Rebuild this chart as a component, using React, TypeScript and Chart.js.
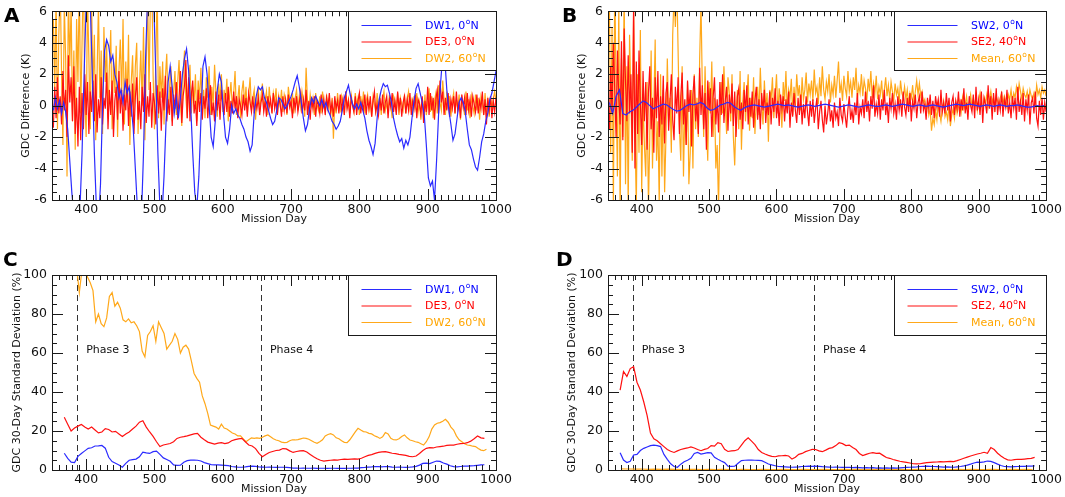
import React, { useEffect, useRef } from 'react';
import { Chart, registerables } from 'chart.js';

Chart.register(...registerables);

const FONT = '"DejaVu Sans", "Liberation Sans", sans-serif';
const BLUE = '#2b2bff';
const RED = '#ff1010';
const ORANGE = '#ffa81a';
const BLUE_TXT = '#0000ff';
const RED_TXT = '#ff0000';
const ORANGE_TXT = '#ffa500';
const AXIS_COLOR = '#1a1a1a';
const LINE_W = 1.2;

// ---------------- axes / annotations ----------------
const X_MIN = 350;
const X_MAX = 1000;
const X_TICKS = [400, 500, 600, 700, 800, 900, 1000];
const X_MAJOR_STEP = 100;
const X_MINOR_STEP = 10;
const Y_TICKS_K = [-6, -4, -2, 0, 2, 4, 6];
const Y_TICKS_PCT = [0, 20, 40, 60, 80, 100];

const PHASE_LINE_DAYS = [387, 656];
const PHASE_LABELS = ['Phase 3', 'Phase 4'];
const PHASE_LABEL_DAYS = [400, 669];
const PHASE_LABEL_VALUE = 61.5;

const LEGEND_A = ['DW1, 0°N', 'DE3, 0°N', 'DW2, 60°N'];
const LEGEND_B = ['SW2, 0°N', 'SE2, 40°N', 'Mean, 60°N'];

// ---------------- Panel A: GDC difference (K) ----------------
const A_DW1_START = 352, A_DW1_STEP = 3;
const A_DW1 = [
  -0.3, 0.5, -0.2, 0.3, -0.5, 0.2, -0.4, -1.5, -3.5, -5.5,
  -7, -8, -7.5, -6.5, -3, 2, 6.5, 8, 6.5, 2,
  -3, -6.5, -7.5, -5, 0, 3.5, 4.2, 3.8, 2.8, 3.2,
  2, 1.5, 0.5, 1, 0.2, 1.5, 0.8, 1.2, 0, -1.5,
  -4, -6.5, -8, -7, -3, 3, 7, 9, 8.5, 6.5,
  2, -3, -6.5, -7, -4.5, -1, 1.5, 2.5, 1.2, -0.5,
  0.5, -0.8, 0.5, 2, 3, 3.6, 2.2, 0, -3, -5.5,
  -6.5, -4.5, -1, 2.5, 3.1, 2, 0, -2, -2.6, -1,
  1, 2, 1.5, -0.5, -2, -2.4, -1.5, 0, -0.5, -0.2,
  -0.6, -0.8, -1.2, -1.5, -2, -2.3, -2.9, -2.5, -0.5, 0.6,
  1.2, 1.0, 1.2, 0.5, 0.2, -0.3, -0.8, -1.2, -1, -0.3,
  0.5, 0.4, 0.1, -0.2, 0, 0.3, 0.6, 1.0, 1.5, 1.9,
  1.2, 0.2, -0.8, -1.6, -1.2, -0.2, 0.5, 0.2, 0.6, 0.3,
  0, 0.4, -0.1, 0.2, -0.3, -0.6, -1.0, -1.2, -1.5, -1.3,
  -1.0, -0.3, 0.5, 0.9, 1.3, 0.6, 0.1, -0.2, 0.1, -0.2,
  0.2, -0.3, -0.8, -1.6, -2.2, -2.6, -3.1, -2.4, -0.8, 0.4,
  1.0, 1.4, 1.2, 1.3, 0.8, 0.2, -0.8, -1.4, -1.9, -2.3,
  -2.1, -2.7, -2.2, -2.5, -2.0, -0.8, 0.3, 1.1, 1.4, 0.8,
  0.2, -0.6, -2.5, -4.6, -5.1, -4.8, -6.0, -3.5, -0.5, 1.5,
  3.2, 3.0, 1.0, -0.3, -1.2, -2.2, -1.8, -0.8, 0.2, 0.5,
  0.2, -0.4, -1.5, -2.5, -2.8, -3.4, -3.9, -4.1, -3.3, -2.3,
  -1.8, -1.0, -0.5, 0.4, 0.8, 1.5, 2.2,
];

const A_DE3_START = 352, A_DE3_STEP = 2;
const A_DE3 = [
  -1.4, 1.2, -0.8, 1.8, -0.5, 0.6, -1.2, 2.2, -0.3, 1.0,
  -2.0, 3.2, 0.2, 1.8, -1.0, 2.5, -1.8, 0.5, -2.6, 1.2,
  -2.2, 0.8, -1.5, 2.0, -0.6, 1.5, -1.8, 0.9, -0.4, 1.6,
  -1.0, 2.0, -1.7, 0.4, -0.8, 1.8, -1.2, 0.5, -0.2, 2.1,
  -1.5, 1.0, -0.6, 1.6, -2.0, 0.3, 1.2, -0.9, 2.2, -0.5,
  1.0, -1.6, 0.7, -0.3, 1.7, -1.3, 0.9, -0.7, 1.4, -1.8,
  0.5, 1.8, -0.9, 0.3, -1.5, 1.2, -0.4, 2.0, -1.1, 0.6,
  -0.7, 1.5, -1.4, 0.8, 0.2, -1.2, 1.3, -0.5, 0.9, -1.6,
  1.1, -0.3, 1.9, -1.0, 0.4, -0.6, 1.2, -1.3, 0.7, -0.2,
  1.5, -0.9, 0.5, 2.2, -1.1, 0.6, 1.3, 2.9, -0.8, 1.8,
  -1.0, 0.7, 1.6, -0.5, 0.3, -1.3, 1.0, -0.4, 0.8, -0.9,
  0.6, -0.2, 1.1, -0.8, 0.4, 1.3, -0.6, 0.2, -1.0, 0.9,
  -0.3, 0.7, -0.9, 1.0, 0.1, -0.6, 0.8, -0.4, 1.2, -0.7,
  0.3, -0.5, 0.9, -0.2, 0.6, -0.8, 0.4, 0.0, -0.6, 0.7,
  -0.3, 0.5, -0.7, 0.8, 0.2, -0.4, 0.6, -0.5, 0.3, -0.2,
  0.5, -0.6, 0.2, 0.7, -0.4, 0.3, -0.7, 0.6, -0.1, 0.4,
  -0.5, 0.8, -0.2, 0.3, -0.6, 0.5, 0.1, -0.7, 0.6, -0.3,
  0.4, -0.5, 0.7, -0.1, 0.3, -0.8, 0.5, -0.2, 0.6, -0.4,
  0.2, 0.8, -0.5, 0.4, -0.3, 1.0, -0.6, 0.3, -0.9, 0.5,
  -0.2, 0.6, -0.7, 0.3, 0.1, -0.5, 0.7, -0.3, 0.4, -0.6,
  0.5, -0.1, 0.8, -0.4, 0.2, -0.7, 0.6, -0.2, 0.3, -0.5,
  0.7, -0.3, 0.4, -0.6, 0.9, -0.2, 0.3, -0.8, 0.5, 0.0,
  -0.4, 0.6, -0.6, 0.3, 0.8, -0.5, 0.2, -0.3, 0.7, -0.6,
  0.4, -0.2, 0.6, -0.7, 0.3, 0.9, -0.4, 0.1, -0.6, 0.5,
  -0.3, 0.7, -0.5, 0.2, 0.6, -0.8, 0.4, -0.1, 0.8, -0.4,
  0.3, -0.6, 0.9, -0.2, 0.5, -0.7, 0.2, 0.6, -0.5, 0.4,
  -0.3, 0.8, -0.6, 0.3, -0.2, 0.7, -0.8, 0.4, 0.1, -0.5,
  0.6, -1.1, 0.3, -0.4, 1.2, -0.6, 0.8, -0.3, 0.5, -0.9,
  0.4, 1.0, -0.5, 1.6, 0.2, 0.9, -0.6, 0.5, -0.3, 0.8,
  -0.7, 0.4, -0.2, 0.6, -0.5, 0.9, -0.3, 0.2, -0.8, 0.7,
  -0.1, 0.5, -0.6, 0.8, -0.3, 0.4, -0.7, 0.6, 0.1, -0.4,
  0.7, -0.5, 0.3, -0.2, 0.9, -0.6, 0.4, -1.2, 0.5, -0.3,
  0.6, -0.8, 0.3, -0.4, 0.5,
];

const A_DW2_START = 352, A_DW2_STEP = 2;
const A_DW2 = [
  5.5, 1.0, 7.0, -1.5, 4.5, 8.0, 2.0, -2.5, 6.5, 3.0,
  -4.5, 7.5, 2.5, 6.5, -1.0, 3.5, -2.8, 5.5, 1.5, 8.0,
  -0.5, 4.0, 9.0, 0.5, -2.0, 7.0, 3.0, -1.5, 6.5, 1.0,
  4.5, -2.2, 2.0, 6.5, 0.5, 3.5, -1.8, 5.0, 1.5, 4.0,
  -0.8, 2.5, 4.8, -1.5, 3.0, 0.8, 3.8, -2.0, 2.2, 4.2,
  0.5, 5.5, -1.2, 2.8, 0.2, 4.5, -2.5, 1.5, 3.2, -0.6,
  2.5, 4.0, -1.8, 1.2, 3.5, 0.0, 5.0, -2.2, 2.8, 7.0,
  1.0, 6.5, 8.5, 2.0, -1.5, 3.0, 7.5, -0.8, 2.5, 0.5,
  2.8, -1.2, 1.8, 3.3, -0.5, 1.0, 2.5, -1.0, 0.8, 2.2,
  -0.6, 1.5, 2.9, 0.3, -1.3, 2.0, 3.5, 0.5, -0.8, 1.6,
  2.6, -0.5, 1.2, 0.2, 2.0, -1.0, 1.6, 0.4, 2.4, -0.3,
  1.0, -0.8, 1.8, 0.5, 2.5, -0.6, 1.2, 0.0, 2.6, 0.8,
  -0.7, 1.4, 0.3, 2.0, -0.4, 1.0, 0.2, 1.7, -1.0, 0.6,
  1.5, -0.2, 0.8, 2.2, -0.6, 0.4, 1.3, -0.8, 0.9, 1.6,
  0.0, 1.2, -0.5, 0.7, 1.8, -0.3, 0.5, 1.0, -0.9, 0.4,
  1.1, -0.4, 0.6, 1.4, -0.2, 0.3, 0.9, -0.6, 1.2, 0.1,
  -0.3, 0.8, 0.2, 1.1, -0.5, 0.6, 0.0, 1.0, -0.4, 0.7,
  0.3, -0.6, 1.2, 0.4, -0.2, 0.8, -0.5, 0.5, 1.0, -0.3,
  0.6, -0.1, 0.9, 0.2, -0.7, 2.4, 0.3, -0.4, 0.7, 0.0,
  0.5, -0.6, 0.8, 0.1, -0.3, 0.6, -0.5, 0.9, 0.2, -0.4,
  0.7, -0.2, 0.4, -0.7, 0.5, -2.1, 0.3, -0.5, 0.8, 0.0,
  -0.3, 0.6, 0.2, -0.6, 0.9, -0.1, 0.4, -0.5, 0.7, 0.1,
  -0.4, 0.8, 0.0, 0.5, -0.6, 0.6, -0.2, 0.9, -0.5, 0.3,
  0.7, -0.3, 0.2, -0.7, 0.6, 0.1, -0.4, 0.8, -0.2, 0.5,
  -0.6, 0.4, 0.9, -0.3, 0.2, -0.5, 0.7, 0.0, -0.8, 0.6,
  0.3, -0.4, 0.8, -0.6, 0.5, 0.1, -0.3, 0.7, -0.5, 0.4,
  0.9, -0.2, 0.3, -0.7, 0.6, -0.1, 0.8, -0.4, 0.2, -0.9,
  0.5, -0.3, 0.7, -0.6, 0.2, 1.1, -0.4, 0.6, -0.8, 0.3,
  0.8, -0.5, 1.3, 0.2, -0.3, 1.6, 0.4, -0.6, 0.9, -0.2,
  0.6, -0.7, 0.3, 0.8, -0.5, 0.4, -0.2, 0.7, -0.9, 0.5,
  0.1, -0.6, 0.9, -0.3, 0.4, -0.8, 0.6, 0.0, -0.5, 0.7,
  -0.3, 0.5, -0.9, 0.6, 0.2, -0.6, 0.8, -0.4, 0.3, -0.7,
  0.6, -0.2, 0.4, 0.9, 0.3,
];

// ---------------- Panel B: GDC difference (K) ----------------
const B_SW2_START = 352, B_SW2_STEP = 5;
const B_SW2 = [
  0.2, -0.5, 0.6, 1.0, -0.5, -0.6, -0.4, -0.3, -0.1, 0.1,
  0.3, 0.2, 0.0, -0.2, -0.1, 0.0, 0.1, 0.05, -0.1, -0.25,
  -0.35, -0.3, -0.15, 0.0, 0.1, 0.05, 0.1, 0.2, 0.1, -0.15,
  -0.3, -0.25, -0.1, 0.05, 0.1, 0.2, 0.15, -0.05, -0.2, -0.3,
  -0.15, -0.05, 0.0, 0.05, 0.0, -0.05, -0.1, -0.05, 0.0, 0.05,
  0.1, 0.05, 0.0, 0.05, 0.0, -0.05, -0.1, -0.05, 0.0, 0.05,
  0.0, -0.05, 0.0, 0.05, 0.1, 0.05, 0.0, -0.05, -0.1, -0.05,
  0.0, 0.05, 0.0, -0.05, -0.1, -0.05, 0.0, 0.05, 0.0, -0.05,
  -0.05, 0.0, 0.05, 0.0, -0.05, 0.0, 0.05, 0.1, 0.05, 0.0,
  -0.05, 0.0, 0.05, 0.0, -0.05, 0.0, 0.05, 0.0, -0.05, -0.1,
  -0.05, 0.0, 0.05, 0.1, 0.05, 0.0, 0.05, 0.1, 0.05, 0.0,
  -0.05, 0.0, 0.05, 0.0, -0.05, 0.0, 0.05, 0.0, -0.05, 0.0,
  0.0, 0.05, 0.0, -0.05, -0.1, -0.1, -0.05, 0.0, -0.05, 0.0,
];

const B_SE2_START = 352, B_SE2_STEP = 2;
const B_SE2 = [
  -1.5, 2.5, -0.5, 4.0, 1.0, -2.0, 3.5, 0.5, -1.2, 4.1,
  -2.2, 4.9, 1.5, -1.0, 3.2, -0.5, 2.0, -3.0, 6.5, -4.0,
  2.8, -1.8, 3.5, 0.2, -2.5, 2.2, -1.0, 1.5, -2.8, 0.8,
  2.5, -1.5, 0.5, -3.0, 1.8, -0.8, 2.2, -2.0, 0.6, -1.2,
  1.9, -2.4, 0.8, 1.5, -1.6, 0.3, 2.0, -0.9, -2.2, 1.2,
  -0.5, 1.8, -1.8, 0.6, 2.1, -1.2, 0.4, -2.5, 1.6, -0.4,
  1.0, -2.6, 0.7, 1.9, -1.0, 0.2, -1.8, 2.4, -0.6, 1.3,
  -1.5, 0.8, -2.8, 1.6, -0.3, 1.1, -2.0, 0.5, 1.8, -1.2,
  0.4, -1.7, 1.5, -0.6, 2.0, -1.1, 0.3, 1.2, -1.6, 0.7,
  -0.5, 1.4, -1.3, 0.9, -2.0, 0.6, 1.1, -0.9, 0.2, -1.5,
  1.0, -0.4, 1.3, -1.2, 0.5, -0.7, 0.9, -1.4, 0.3, 1.2,
  -0.9, 0.4, -1.5, 0.8, -0.3, 1.0, -1.1, 0.2, -0.6, 0.9,
  -1.2, 0.5, -0.4, 1.1, -0.8, 0.3, -1.3, 0.7, -0.2, 0.6,
  -1.0, 0.4, -0.5, 0.9, -1.4, 0.2, -0.7, 0.8, -0.3, -1.1,
  0.5, -0.6, 0.7, -1.2, 0.1, -0.8, 0.6, -0.4, -1.3, 0.3,
  -0.7, 0.4, -1.1, -0.2, 0.5, -1.5, -0.4, 0.3, -0.9, -1.7,
  0.0, -1.2, -0.5, 0.4, -1.0, -0.3, -1.4, 0.2, -0.8, -0.4,
  -1.3, 0.5, -0.6, -1.0, 0.1, -0.7, -1.4, -0.2, 0.6, -0.9,
  -0.3, -1.1, 0.2, -0.6, 0.8, -1.2, -0.1, -0.5, 0.4, -0.8,
  0.9, -0.4, 0.3, -1.0, 0.6, -0.2, 1.3, -0.7, 0.1, -0.5,
  0.7, -0.9, 0.4, -0.3, 1.0, -0.6, 0.2, -1.1, 0.5, -0.2,
  0.8, -0.5, 0.1, -0.9, 0.6, -0.3, 0.4, -0.7, 0.9, -0.1,
  -0.6, 0.5, -0.4, 0.8, -1.0, 0.3, -0.2, 0.7, -0.8, 0.2,
  0.6, -0.5, 0.9, -0.3, 0.1, -0.9, 0.5, -0.2, 0.7, -0.6,
  0.3, -0.8, 0.6, -0.1, 0.4, -0.7, 1.0, -0.4, 0.2, -0.5,
  0.8, -0.3, 0.5, -1.0, 0.2, 0.6, -0.6, 0.3, -0.2, 0.9,
  -0.7, 0.4, -0.3, 1.1, -0.5, 0.2, -0.9, 0.6, 0.0, -0.4,
  0.7, -0.8, 1.2, -0.3, 0.4, -0.6, 0.9, -1.1, 0.5, 0.1,
  -0.5, 1.3, -0.2, 0.6, -0.9, 0.8, -0.4, 1.1, -0.6, 0.3,
  -0.3, 0.9, -0.7, 0.4, -0.1, 1.0, -0.5, 0.2, -0.8, 0.6,
  -0.2, 0.5, -0.9, 1.2, -0.4, 0.3, -0.6, 0.8, -1.0, 0.4,
  -0.3, 0.7, -1.2, 0.2, 0.5, -0.5, 0.9, -0.8, -1.3, 0.3,
  -0.6, 0.5, -0.9, 0.2, -0.4,
];

const B_MEAN_START = 352, B_MEAN_STEP = 2;
const B_MEAN = [
  7.0, -3.0, 5.0, -6.5, 8.0, 1.0, -4.5, 6.5, -7.0, 3.0,
  -2.0, 7.5, -5.0, 2.5, -6.5, 4.5, 0.5, -3.5, 6.0, -1.5,
  -6.5, 2.0, -3.0, 4.8, -5.5, 0.5, -2.5, -4.5, 1.5, -6.5,
  -2.0, 3.5, -4.0, 0.0, 4.2, -3.5, -1.0, -6.2, 2.0, -4.5,
  1.0, -5.5, -2.0, 3.0, -1.0, 0.5, -3.0, 4.5, 7.0, 5.0,
  8.0, 3.5, -1.5, -3.5, 2.5, -4.5, 0.0, -2.5, 1.5, -5.0,
  -3.0, 1.0, -4.0, 2.0, -1.5, 0.5, -2.0, 3.0, 6.5, 1.0,
  -2.0, 2.5, -1.0, -3.5, 1.5, -0.5, 2.8, -2.0, 0.5, -4.0,
  -2.5, -6.5, -1.5, 1.5, -0.5, 2.5, 0.2, -1.8, 1.8, 0.8,
  -1.0, 2.0, -2.0, -3.8, -0.5, 1.0, -1.5, 2.2, -2.8, 0.3,
  1.5, -1.0, 0.6, 2.0, -1.6, 0.5, -0.8, 1.8, -1.8, 0.4,
  1.2, -0.6, 2.4, 0.0, -1.2, 1.6, -0.3, 0.8, -2.3, 1.0,
  0.4, 1.8, -0.8, 0.6, 2.0, -0.5, 1.1, 0.2, -1.4, 1.5,
  0.3, 2.2, -0.4, 1.0, 0.5, 1.7, -0.6, 1.2, 0.0, 2.0,
  0.6, 1.3, -0.3, 1.8, 0.4, 1.0, 2.1, 0.2, 1.4, 0.7,
  1.6, 0.3, 2.3, 0.8, 1.2, 0.1, 1.8, 0.6, 2.5, 1.0,
  0.4, 1.5, 0.9, 2.0, 0.2, 1.3, 0.7, 1.9, 0.5, 1.6,
  2.8, 0.8, 1.4, 0.3, 1.9, 1.1, 0.6, 2.2, 0.9, 1.5,
  0.5, 1.8, 1.0, 2.4, 0.4, 1.3, 0.8, 2.0, 0.6, 1.6,
  1.1, 0.3, 1.7, 0.9, 2.2, 0.5, 1.4, 0.8, 1.9, 0.4,
  1.2, 0.7, 1.6, 0.2, 1.0, 1.8, 0.6, 1.3, 0.4, 1.5,
  0.9, 0.3, 1.4, 0.7, 1.1, 0.2, 1.6, 0.8, 0.5, 1.2,
  0.4, 1.0, 0.1, 0.8, 0.5, 1.3, 0.2, 0.9, 1.6, 0.7,
  1.4, 0.6, 0.9, 0.2, 0.4, -0.3, 0.1, -0.6, -0.2, -1.6,
  -0.8, -1.2, -0.3, -0.9, 0.2, -0.5, -1.0, -0.2, 0.3, -0.7,
  -0.4, -0.9, 0.1, -1.3, -0.6, -0.2, -0.8, 0.2, -0.5, -0.1,
  0.3, -0.4, 0.5, -0.2, 0.1, 0.6, -0.3, 0.2, 0.7, -0.1,
  0.4, 0.0, 0.6, -0.3, 0.3, 0.8, 0.1, -0.2, 0.5, 0.2,
  0.7, -0.1, 0.4, 0.9, 0.2, 0.5, -0.2, 0.6, 0.3, 0.0,
  0.5, 0.8, 0.1, 0.6, 0.3, -0.1, 0.7, 0.4, 1.0, 0.2,
  0.8, 0.5, 1.2, 0.6, 1.4, 0.9, 0.4, 1.1, 0.7, 0.5,
  0.9, 0.3, 1.0, 0.6, 0.4, 0.8, 0.2, 1.3, 0.7, 1.0,
  0.5, 1.2, 0.8, 1.0, 0.6,
];

// ---------------- Panel C: 30-day standard deviation (%) ----------------
const C_DW1_START = 368, C_DW1_STEP = 5;
const C_DW1 = [
  8.6, 6.0, 4.0, 3.8, 7.0, 8.5, 9.8, 11.1, 11.4, 12.3,
  12.4, 12.6, 11.2, 6.5, 4.3, 3.5, 2.6, 1.4, 3.4, 5.0,
  5.3, 5.6, 6.8, 9.2, 8.8, 8.5, 9.4, 9.7, 8.0, 6.2,
  5.4, 4.5, 2.6, 2.4, 2.5, 4.0, 4.8, 5.1, 5.1, 5.0,
  4.6, 3.8, 3.3, 2.8, 2.6, 2.6, 2.5, 2.4, 2.2, 1.8,
  1.6, 1.4, 1.4, 1.6, 1.9, 2.0, 1.9, 1.6, 1.5, 1.4,
  1.5, 1.4, 1.3, 1.4, 1.4, 1.3, 1.2, 1.0, 1.0, 0.9,
  1.0, 0.9, 0.9, 1.0, 0.8, 0.9, 0.9, 0.8, 0.9, 0.9,
  0.8, 0.9, 0.8, 0.9, 0.9, 1.0, 1.0, 1.2, 1.3, 1.5,
  1.6, 1.8, 1.7, 1.6, 1.8, 1.7, 1.5, 1.4, 1.5, 1.4,
  1.3, 1.4, 1.6, 1.9, 2.5, 3.4, 3.5, 3.3, 4.0, 4.6,
  4.4, 3.6, 3.0, 2.2, 1.7, 1.6, 1.8, 2.0, 2.0, 2.1,
  2.2, 2.4, 2.6, 2.7,
];

const C_DE3_START = 368, C_DE3_STEP = 5;
const C_DE3 = [
  27, 23.5, 20, 21.5, 22.5, 23.3, 22, 21, 22, 20.5,
  19, 19.5, 21.2, 20.8, 19.5, 19.8, 18.5, 17.2, 18.5, 19.5,
  21.0, 22.5, 24.5, 25.3, 22.0, 19.5, 17.2, 14.5, 12.0, 12.8,
  13.2, 13.6, 14.5, 16.2, 16.8, 17.1, 17.5, 18.0, 18.5, 18.8,
  16.8, 15.5, 14.3, 13.8, 13.3, 13.8, 14.0, 13.5, 13.9, 15.0,
  15.6, 16.0, 16.2, 14.5, 12.8, 12.3, 11.0, 8.5, 6.8, 8.0,
  9.0, 9.5, 10.0, 10.2, 11.0, 10.8, 9.8, 9.0, 9.5, 9.8,
  9.9, 9.2, 8.0, 6.8, 5.8, 5.0, 4.6, 4.8, 5.0, 5.2,
  5.1, 5.4, 5.6, 5.5, 5.6, 5.7, 5.6, 6.0, 6.8, 7.5,
  7.9, 8.5, 9.0, 9.3, 9.4, 9.0, 8.6, 8.4, 8.0, 7.8,
  7.5, 7.0, 6.8, 7.2, 8.5, 10.0, 11.1, 11.5, 11.3, 11.8,
  12.0, 12.2, 12.6, 12.8, 12.8, 13.2, 13.5, 13.6, 14.0, 14.8,
  16.0, 17.4, 16.5, 16.2,
];

const C_DW2_START = 386, C_DW2_STEP = 4;
const C_DW2 = [
  104, 91, 103, 105, 99, 96, 92, 76, 80, 75,
  73.5, 78, 89, 91, 84, 86, 83, 77, 76, 77.5,
  75.5, 76, 74, 71, 61, 58, 69, 71, 74, 66,
  76, 73, 70, 62, 64, 66, 70, 67, 60, 63,
  64, 62, 56, 49.5, 47, 45, 38, 34, 29, 23,
  22.5, 22, 21, 23.5, 21.5, 21, 20, 19, 18.5, 17.5,
  17.5, 16, 14.5, 15.5, 16.5, 16.2, 16.5, 16.2, 16.8, 17.5,
  18, 17, 16, 15.4, 15, 14.3, 14, 14.2, 15, 15.5,
  15.4, 15.6, 16, 16.4, 16.2, 15.8, 15, 14.2, 13.7, 14.5,
  15.5, 17.5, 18.2, 18.6, 18, 16.5, 16, 15, 14.2, 14,
  15.5, 17.5, 19.5, 21.4, 20.5, 19.7, 19.5, 18.8, 18.5, 17.6,
  17, 16.2, 17, 19.2, 18.5, 16.2, 15.5, 15.4, 16, 17.2,
  18, 16.5, 15.4, 15, 14.5, 14.2, 13.5, 12.8, 14.5, 17,
  21, 23.1, 24, 24.3, 25, 26, 24.5, 22, 20.5, 17.5,
  15.5, 14.5, 13.5, 12.8, 12.6, 12.2, 12, 11, 10.2, 9.9,
  10.6,
];

// ---------------- Panel D: 30-day standard deviation (%) ----------------
const D_SW2_START = 368, D_SW2_STEP = 5;
const D_SW2 = [
  8.9, 5.1, 3.8, 4.5, 7.7, 8.0, 10.0, 11.1, 11.8, 12.5,
  12.8, 12.5, 12.0, 8.0, 5.5, 3.2, 1.8, 1.4, 3.0, 4.2,
  5.0, 6.0, 8.5, 9.0, 8.2, 8.5, 8.9, 8.8, 6.5, 5.5,
  4.6, 3.8, 2.0, 1.9, 2.0, 3.5, 4.8, 5.0, 5.1, 5.1,
  5.0, 4.9, 4.8, 4.0, 3.1, 2.6, 2.2, 1.8, 1.7, 1.6,
  1.5, 1.4, 1.5, 1.6, 1.8, 1.9, 2.0, 1.9, 2.0, 1.9,
  1.7, 1.6, 1.5, 1.4, 1.5, 1.4, 1.3, 1.4, 1.3, 1.2,
  1.3, 1.2, 1.1, 1.2, 1.1, 1.2, 1.0, 1.1, 1.0, 1.1,
  1.0, 1.1, 1.0, 1.1, 1.2, 1.3, 1.4, 1.5, 1.6, 1.8,
  1.9, 2.0, 1.9, 1.8, 1.7, 1.6, 1.5, 1.6, 1.5, 1.4,
  1.6, 1.8, 2.1, 2.5, 3.0, 3.6, 4.0, 3.9, 4.2, 4.6,
  4.4, 3.8, 3.0, 2.3, 1.8, 1.7, 1.6, 1.7, 1.8, 1.9,
  1.9, 2.0, 2.0, 2.1,
];

const D_SE2_START = 368, D_SE2_STEP = 5;
const D_SE2 = [
  41, 50.5, 48, 52, 53, 45, 41, 35, 28, 19,
  16, 15, 13.5, 12, 10.5, 9.6, 9.0, 9.8, 10.5, 11.0,
  11.3, 11.8, 11.3, 10.5, 9.9, 10.6, 11.0, 12.5, 12.2, 14.0,
  13.5, 10.6, 9.5, 9.8, 9.9, 10.5, 12.8, 15.0, 16.5, 14.8,
  13.0, 10.5, 9.0, 8.2, 7.5, 7.0, 6.8, 7.2, 7.3, 7.5,
  7.2, 5.6, 6.5, 8.0, 8.5, 9.4, 10.0, 10.6, 10.5, 9.8,
  9.4, 10.2, 11.1, 11.5, 12.5, 14.0, 13.5, 12.5, 12.8, 11.5,
  10.5, 8.5, 7.4, 8.0, 8.6, 8.9, 8.5, 8.6, 7.5, 6.4,
  6.0, 5.4, 4.9, 4.5, 4.2, 3.9, 3.6, 3.2, 3.1, 3.2,
  3.5, 3.8, 3.9, 4.0, 4.1, 4.3, 4.2, 4.3, 4.4, 4.3,
  4.8, 5.4, 6.0, 6.6, 7.2, 7.7, 8.2, 8.6, 9.1, 8.6,
  11.5, 10.5, 8.6, 7.2, 6.0, 5.2, 5.0, 5.3, 5.5, 5.4,
  5.6, 5.8, 6.0, 6.5,
];

const D_MEAN_START = 370, D_MEAN_STEP = 10;
const D_MEAN = [
  0.6, 0.5, 0.4, 0.5, 0.3, 0.4, 0.3, 0.4, 0.3, 0.2,
  0.3, 0.3, 0.2, 0.3, 0.2, 0.3, 0.2, 0.2, 0.3, 0.2,
  0.2, 0.3, 0.2, 0.2, 0.3, 0.2, 0.2, 0.3, 0.2, 0.2,
  0.3, 0.2, 0.2, 0.3, 0.2, 0.3, 0.2, 0.2, 0.3, 0.2,
  0.2, 0.3, 0.2, 0.2, 0.3, 0.2, 0.3, 0.3, 0.2, 0.2,
  0.3, 0.2, 0.3, 0.2, 0.2, 0.3, 0.2, 0.2, 0.3, 0.2,
  0.3, 0.2,
];

// ---------------- helpers ----------------
type Series = { label: string; color: string; textColor: string; start: number; step: number; values: number[] };

type PanelCfg = {
  letter: string;
  left: number; top: number; w: number; h: number;
  area: { l: number; r: number; t: number; b: number };
  yMin: number; yMax: number; yTicks: number[]; yMajor: number; yMinor: number;
  yTitle: string; yTitlePad: number; xTitlePad: number;
  legendW: number; legendH: number; letterX: number; letterY: number;
  phases: boolean;
  series: Series[];
};

const toPoints = (s: Series) => s.values.map((v, i) => ({ x: s.start + i * s.step, y: v }));

const mk = (labels: string[], arr: [number, number, number[]][]): Series[] => {
  const colors = [BLUE, RED, ORANGE];
  const tcolors = [BLUE_TXT, RED_TXT, ORANGE_TXT];
  return arr.map((a, i) => ({ label: labels[i], color: colors[i], textColor: tcolors[i], start: a[0], step: a[1], values: a[2] }));
};

const PANELS: PanelCfg[] = [
  {
    letter: 'A', left: 0, top: 0, w: 532, h: 248, area: { l: 52, r: 496, t: 6, b: 200 },
    yMin: -6, yMax: 6, yTicks: Y_TICKS_K, yMajor: 2, yMinor: 0.5,
    yTitle: 'GDC Difference (K)', yTitlePad: 19.4, xTitlePad: 22.4,
    legendW: 148, legendH: 59, letterX: 4, letterY: 22, phases: false,
    series: mk(LEGEND_A, [[A_DW1_START, A_DW1_STEP, A_DW1], [A_DE3_START, A_DE3_STEP, A_DE3], [A_DW2_START, A_DW2_STEP, A_DW2]]),
  },
  {
    letter: 'B', left: 532, top: 0, w: 533, h: 248, area: { l: 76, r: 519, t: 6, b: 200 },
    yMin: -6, yMax: 6, yTicks: Y_TICKS_K, yMajor: 2, yMinor: 0.5,
    yTitle: 'GDC Difference (K)', yTitlePad: 43.2, xTitlePad: 22.4,
    legendW: 152, legendH: 59, letterX: 30, letterY: 22, phases: false,
    series: mk(LEGEND_B, [[B_SW2_START, B_SW2_STEP, B_SW2], [B_SE2_START, B_SE2_STEP, B_SE2], [B_MEAN_START, B_MEAN_STEP, B_MEAN]]),
  },
  {
    letter: 'C', left: 0, top: 248, w: 532, h: 249, area: { l: 52, r: 496, t: 27, b: 222 },
    yMin: 0, yMax: 100, yTicks: Y_TICKS_PCT, yMajor: 20, yMinor: 5,
    yTitle: 'GDC 30-Day Standard Deviation (%)', yTitlePad: 10.6, xTitlePad: 1.4,
    legendW: 148, legendH: 60, letterX: 3, letterY: 18, phases: true,
    series: mk(LEGEND_A, [[C_DW1_START, C_DW1_STEP, C_DW1], [C_DE3_START, C_DE3_STEP, C_DE3], [C_DW2_START, C_DW2_STEP, C_DW2]]),
  },
  {
    letter: 'D', left: 532, top: 248, w: 533, h: 249, area: { l: 76, r: 519, t: 27, b: 222 },
    yMin: 0, yMax: 100, yTicks: Y_TICKS_PCT, yMajor: 20, yMinor: 5,
    yTitle: 'GDC 30-Day Standard Deviation (%)', yTitlePad: 33.7, xTitlePad: 1.4,
    legendW: 152, legendH: 60, letterX: 24, letterY: 18, phases: true,
    series: mk(LEGEND_B, [[D_SW2_START, D_SW2_STEP, D_SW2], [D_SE2_START, D_SE2_STEP, D_SE2], [D_MEAN_START, D_MEAN_STEP, D_MEAN]]),
  },
];

const LEGEND_ROWS = [14, 30.5, 47];

function drawLabelWithSup(ctx: CanvasRenderingContext2D, text: string, x: number, y: number, color: string) {
  const parts = text.split('°');
  ctx.fillStyle = color;
  ctx.textBaseline = 'middle';
  ctx.textAlign = 'left';
  ctx.font = `11px ${FONT}`;
  ctx.fillText(parts[0], x, y);
  let cx = x + ctx.measureText(parts[0]).width;
  if (parts.length > 1) {
    ctx.font = `7.5px ${FONT}`;
    ctx.fillText('o', cx + 0.3, y - 4);
    cx += ctx.measureText('o').width + 0.6;
    ctx.font = `11px ${FONT}`;
    ctx.fillText(parts[1], cx, y);
  }
}

function decorPlugin(cfg: PanelCfg) {
  return {
    id: 'decor' + cfg.letter,
    beforeDatasetsDraw(chart: any) {
      if (!cfg.phases) return;
      const { ctx, chartArea: ca, scales } = chart;
      ctx.save();
      ctx.strokeStyle = '#333';
      ctx.lineWidth = 1;
      ctx.setLineDash([6, 4]);
      ctx.beginPath();
      PHASE_LINE_DAYS.forEach((d) => {
        const px = Math.round(scales.x.getPixelForValue(d)) + 0.5;
        ctx.moveTo(px, ca.top);
        ctx.lineTo(px, ca.bottom);
      });
      ctx.stroke();
      ctx.setLineDash([]);
      ctx.fillStyle = '#111';
      ctx.font = `11px ${FONT}`;
      ctx.textAlign = 'left';
      ctx.textBaseline = 'middle';
      PHASE_LABELS.forEach((t, i) => {
        ctx.fillText(t, scales.x.getPixelForValue(PHASE_LABEL_DAYS[i]), scales.y.getPixelForValue(PHASE_LABEL_VALUE));
      });
      ctx.restore();
    },
    afterDatasetsDraw(chart: any) {
      const { ctx, chartArea: ca, scales } = chart;
      const xs = scales.x, ys = scales.y;
      ctx.save();
      // inward ticks on all four sides
      ctx.strokeStyle = AXIS_COLOR;
      ctx.lineWidth = 1;
      ctx.beginPath();
      const nx = Math.round((X_MAX - X_MIN) / X_MINOR_STEP);
      for (let i = 0; i <= nx; i++) {
        const v = X_MIN + i * X_MINOR_STEP;
        const len = v % X_MAJOR_STEP === 0 ? 11 : 5;
        const px = Math.round(xs.getPixelForValue(v)) + 0.5;
        ctx.moveTo(px, ca.bottom);
        ctx.lineTo(px, ca.bottom - len);
        ctx.moveTo(px, ca.top);
        ctx.lineTo(px, ca.top + len);
      }
      const ny = Math.round((cfg.yMax - cfg.yMin) / cfg.yMinor);
      for (let i = 0; i <= ny; i++) {
        const v = cfg.yMin + i * cfg.yMinor;
        const r = v / cfg.yMajor;
        const len = Math.abs(r - Math.round(r)) < 1e-6 ? 11 : 5;
        const py = Math.round(ys.getPixelForValue(v)) + 0.5;
        ctx.moveTo(ca.left, py);
        ctx.lineTo(ca.left + len, py);
        ctx.moveTo(ca.right, py);
        ctx.lineTo(ca.right - len, py);
      }
      ctx.stroke();

      // legend box
      const bx = Math.round(ca.right - cfg.legendW);
      const by = Math.round(ca.top);
      ctx.fillStyle = '#fff';
      ctx.fillRect(bx, by, cfg.legendW, cfg.legendH);
      ctx.strokeStyle = AXIS_COLOR;
      ctx.strokeRect(bx + 0.5, by + 0.5, cfg.legendW, cfg.legendH);
      cfg.series.forEach((s, i) => {
        const y = by + LEGEND_ROWS[i];
        ctx.strokeStyle = s.color;
        ctx.lineWidth = LINE_W;
        ctx.beginPath();
        ctx.moveTo(bx + 13.5, y + 0.5);
        ctx.lineTo(bx + 63.5, y + 0.5);
        ctx.stroke();
        drawLabelWithSup(ctx, s.label, bx + 77, y + 1, s.textColor);
      });

      // frame
      ctx.strokeStyle = AXIS_COLOR;
      ctx.lineWidth = 1;
      ctx.strokeRect(Math.round(ca.left) + 0.5, Math.round(ca.top) + 0.5, Math.round(ca.right - ca.left), Math.round(ca.bottom - ca.top));

      // panel letter
      ctx.fillStyle = '#000';
      ctx.font = `bold 20px ${FONT}`;
      ctx.textAlign = 'left';
      ctx.textBaseline = 'alphabetic';
      ctx.fillText(cfg.letter, cfg.letterX, cfg.letterY);
      ctx.restore();
    },
  };
}

function buildConfig(cfg: PanelCfg): any {
  const tickFont = { family: FONT, size: 12.5, lineHeight: 1 };
  const titleFont = { family: FONT, size: 11, lineHeight: 1.2 };
  return {
    type: 'line',
    data: {
      datasets: cfg.series.map((s) => ({
        label: s.label,
        data: toPoints(s),
        borderColor: s.color,
        backgroundColor: s.color,
        borderWidth: LINE_W,
        pointRadius: 0,
        tension: 0,
        fill: false,
      })),
    },
    options: {
      animation: false,
      responsive: false,
      events: [],
      devicePixelRatio: 1,
      layout: { padding: { left: 0, top: cfg.area.t, right: cfg.w - cfg.area.r, bottom: 0 } },
      plugins: { legend: { display: false }, tooltip: { enabled: false } },
      scales: {
        x: {
          type: 'linear',
          min: X_MIN,
          max: X_MAX,
          afterFit: (s: any) => { s.height = cfg.h - cfg.area.b; },
          afterBuildTicks: (s: any) => { s.ticks = X_TICKS.map((v) => ({ value: v })); },
          grid: { display: false, drawTicks: false },
          border: { display: false },
          ticks: { font: tickFont, color: '#111', padding: 3, maxRotation: 0, autoSkip: false, callback: (v: any) => String(v) },
          title: { display: true, text: 'Mission Day', font: titleFont, color: '#111', padding: { top: 0, bottom: cfg.xTitlePad } },
        },
        y: {
          type: 'linear',
          min: cfg.yMin,
          max: cfg.yMax,
          afterFit: (s: any) => { s.width = cfg.area.l; },
          afterBuildTicks: (s: any) => { s.ticks = cfg.yTicks.map((v) => ({ value: v })); },
          grid: { display: false, drawTicks: false },
          border: { display: false },
          ticks: { font: tickFont, color: '#111', padding: 5, autoSkip: false, callback: (v: any) => String(v) },
          title: { display: true, text: cfg.yTitle, font: titleFont, color: '#111', padding: { top: cfg.yTitlePad, bottom: 0 } },
        },
      },
    },
    plugins: [decorPlugin(cfg)],
  };
}

function Panel({ cfg }: { cfg: PanelCfg }) {
  const ref = useRef<HTMLCanvasElement>(null);
  useEffect(() => {
    if (!ref.current) return;
    const chart = new Chart(ref.current, buildConfig(cfg));
    return () => chart.destroy();
  }, [cfg]);
  return (
    <canvas
      ref={ref}
      width={cfg.w}
      height={cfg.h}
      style={{ position: 'absolute', left: cfg.left, top: cfg.top, width: cfg.w, height: cfg.h }}
    />
  );
}

export default function App() {
  return (
    <div style={{ position: 'absolute', left: 0, top: 0, width: 1065, height: 497, background: '#fff', overflow: 'hidden' }}>
      {PANELS.map((p) => (
        <Panel key={p.letter} cfg={p} />
      ))}
    </div>
  );
}
